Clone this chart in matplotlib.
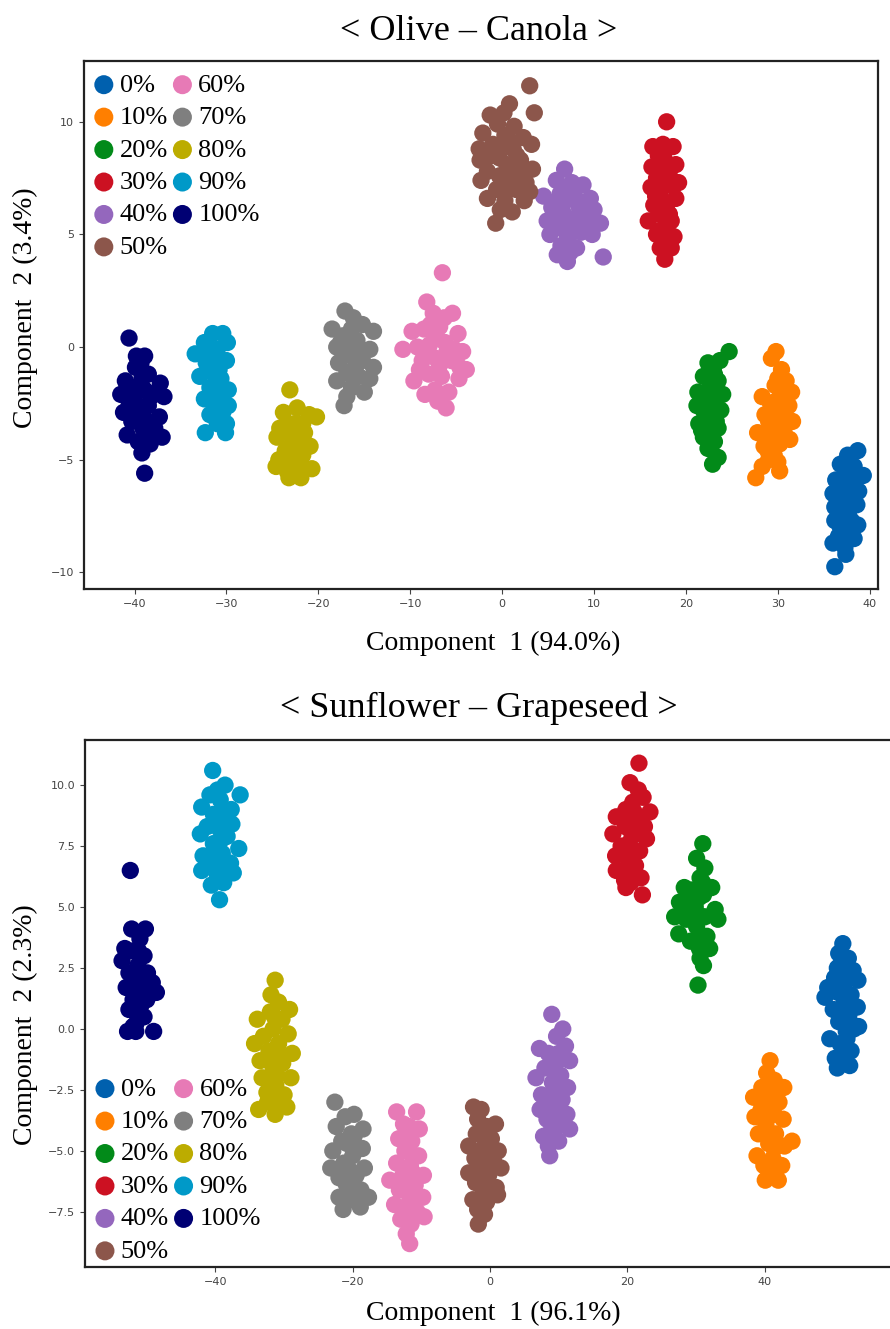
import matplotlib
matplotlib.use("Agg")
import matplotlib.pyplot as plt
from matplotlib.font_manager import FontProperties

# -------------------------------
# Legend labels and colours
# -------------------------------
labels = ["0%", "10%", "20%", "30%", "40%", "50%", "60%", "70%", "80%", "90%", "100%"]
colors = ["#0060ae", "#ff7f00", "#028a19", "#cc1122", "#9467bd", "#8c564b",
          "#e77ab6", "#7f7f7f", "#bcac00", "#0099c8", "#000073"]

# -------------------------------
# Olive - Canola (PCA scores)
# -------------------------------
oc_0 = [(38.7, -4.6), (37.6, -4.8), (36.8, -5.2), (38.3, -5.3), (39.3, -5.7), (37.4, -5.7),
        (36.3, -5.9), (38.2, -6.1), (37.0, -6.3), (36.0, -6.5), (38.8, -6.4), (37.6, -6.8),
        (36.2, -7.1), (38.6, -7.0), (37.1, -7.4), (38.0, -7.7), (36.2, -7.7), (38.7, -7.9),
        (37.0, -8.1), (38.3, -8.5), (36.0, -8.7), (37.3, -8.9), (37.4, -9.2), (36.2, -9.75),
        (37.4, -5.1), (37.2, -6.0), (37.8, -6.4), (37.0, -7.0), (37.7, -7.3), (36.7, -7.9),
        (37.6, -8.3), (36.6, -8.4), (38.0, -5.6)]
oc_10 = [(29.8, -0.2), (29.3, -0.5), (30.4, -1.0), (30.9, -1.5), (29.7, -1.7), (31.5, -2.0),
         (30.3, -2.1), (28.3, -2.2), (29.2, -2.5), (31.2, -2.6), (30.0, -2.9), (28.6, -3.0),
         (31.6, -3.3), (29.5, -3.4), (30.8, -3.5), (27.8, -3.8), (29.1, -3.9), (31.3, -4.1),
         (30.2, -4.3), (28.5, -4.4), (29.6, -4.8), (30.0, -5.1), (28.3, -5.3), (27.6, -5.8),
         (30.2, -5.5), (29.0, -5.0), (29.8, -2.4), (30.6, -3.0), (29.0, -3.3), (30.2, -3.7),
         (29.6, -4.3), (28.9, -4.6), (30.9, -4.0), (30.0, -1.4)]
oc_20 = [(24.7, -0.2), (23.7, -0.6), (22.4, -0.7), (23.0, -0.9), (21.9, -1.3), (23.5, -1.5),
         (22.7, -1.6), (21.3, -2.0), (24.0, -2.1), (22.3, -2.2), (23.2, -2.4), (21.2, -2.6),
         (22.0, -2.9), (23.8, -2.8), (22.8, -3.1), (21.4, -3.4), (23.5, -3.6), (22.3, -3.6),
         (21.9, -4.0), (23.1, -4.2), (22.6, -4.0), (23.5, -4.9), (22.9, -5.2), (22.2, -3.2),
         (22.9, -1.9), (22.6, -2.7), (23.3, -3.3), (21.8, -2.4), (22.6, -3.4), (22.4, -4.5),
         (23.1, -1.2), (21.7, -3.7)]
oc_30 = [(17.9, 10.0), (16.4, 8.9), (17.5, 9.0), (18.6, 8.9), (17.0, 8.5), (18.9, 8.1),
         (16.3, 8.0), (17.8, 7.9), (16.8, 7.5), (19.2, 7.3), (18.1, 7.2), (16.2, 7.1),
         (17.2, 6.9), (18.9, 6.6), (16.5, 6.3), (17.9, 6.3), (17.1, 5.9), (15.9, 5.6),
         (18.4, 5.6), (17.3, 5.2), (18.7, 4.9), (17.7, 4.8), (18.4, 4.4), (17.7, 3.9),
         (16.8, 5.0), (17.5, 8.1), (17.6, 8.4), (18.2, 7.6), (17.4, 7.4), (17.5, 6.5),
         (16.7, 6.7), (18.2, 5.9), (17.9, 5.3), (17.2, 4.4)]
oc_40 = [(6.8, 7.9), (5.9, 7.4), (7.6, 7.3), (8.8, 7.2), (4.5, 6.7), (6.3, 6.8), (7.3, 6.6),
         (9.6, 6.6), (5.4, 6.2), (8.3, 6.3), (10.0, 6.1), (6.6, 6.0), (4.9, 5.6), (7.7, 5.7),
         (9.3, 5.5), (10.7, 5.5), (6.0, 5.3), (8.6, 5.1), (5.2, 5.0), (7.1, 4.9), (9.8, 5.0),
         (6.4, 4.5), (8.1, 4.4), (6.0, 4.1), (7.1, 3.8), (11.0, 4.0), (7.4, 4.2), (7.0, 7.0),
         (6.0, 6.5), (8.0, 6.6), (9.0, 5.8), (6.9, 5.5), (8.0, 5.2), (5.7, 5.7), (7.5, 4.5),
         (9.2, 6.2)]
oc_50 = [(3.0, 11.6), (3.5, 10.4), (0.8, 10.8), (0.2, 10.4), (-1.3, 10.3), (-0.5, 9.9),
         (1.3, 9.8), (-2.1, 9.5), (0.3, 9.4), (2.3, 9.3), (-1.0, 9.0), (3.2, 9.0), (1.2, 8.8),
         (-2.4, 8.3), (-0.3, 8.4), (2.0, 8.3), (3.3, 7.9), (-1.6, 7.8), (0.8, 7.7), (-2.3, 7.4),
         (2.6, 7.3), (-0.6, 7.0), (1.5, 7.0), (-1.6, 6.6), (0.3, 6.5), (2.4, 6.5), (-0.2, 6.1),
         (1.1, 6.0), (-0.7, 5.5), (3.0, 6.9), (-2.5, 8.8), (0.7, 9.2), (-0.3, 8.9), (1.6, 8.5),
         (0.5, 8.1), (-1.2, 8.5), (1.3, 7.4), (-0.3, 7.6), (0.4, 7.0), (2.2, 7.8)]
oc_60 = [(-6.5, 3.3), (-8.2, 2.0), (-7.5, 1.5), (-5.4, 1.5), (-9.8, 0.7), (-8.5, 0.8),
         (-6.8, 0.9), (-4.8, 0.6), (-10.8, -0.1), (-9.2, 0.0), (-7.9, 0.1), (-6.2, 0.2),
         (-4.3, -0.2), (-8.7, -0.6), (-7.2, -0.5), (-5.5, -0.6), (-3.9, -1.0), (-9.6, -1.5),
         (-8.0, -1.2), (-6.6, -1.3), (-4.7, -1.4), (-8.4, -2.1), (-7.3, -1.9), (-5.8, -2.0),
         (-6.1, -2.7), (-7.0, -2.4), (-4.6, -0.9), (-7.3, 0.5), (-6.0, -0.2), (-8.0, -0.3),
         (-6.8, -0.8), (-5.2, -0.1), (-7.8, 1.0), (-6.3, 1.3), (-9.0, -1.0)]
oc_70 = [(-17.1, 1.6), (-16.2, 1.3), (-15.2, 1.0), (-18.5, 0.8), (-14.0, 0.7), (-17.3, 0.5),
         (-15.8, 0.3), (-18.0, 0.0), (-14.4, -0.1), (-16.6, -0.2), (-17.8, -0.7), (-15.2, -0.6),
         (-14.0, -0.9), (-16.9, -1.1), (-15.6, -1.3), (-18.0, -1.5), (-14.4, -1.4), (-16.4, -1.8),
         (-15.0, -2.0), (-17.2, -2.6), (-16.9, -2.2), (-17.6, 0.2), (-16.4, 0.8), (-15.5, -0.2),
         (-16.8, 0.0), (-15.9, -0.8), (-16.2, -1.4), (-17.3, -0.4)]
oc_80 = [(-23.1, -1.9), (-22.3, -2.7), (-23.8, -2.9), (-21.0, -3.0), (-20.2, -3.1), (-22.6, -3.4),
         (-24.2, -3.6), (-23.0, -3.9), (-21.5, -3.8), (-24.5, -4.0), (-22.2, -4.3), (-20.9, -4.4),
         (-23.6, -4.6), (-21.7, -4.8), (-24.3, -5.0), (-22.8, -5.0), (-20.7, -5.4), (-24.6, -5.3),
         (-23.4, -5.5), (-21.6, -5.4), (-23.2, -5.8), (-22.0, -5.3), (-22.5, -3.9), (-23.0, -4.4),
         (-22.3, -4.8), (-21.7, -3.4), (-23.4, -3.4), (-21.9, -5.8)]
oc_90 = [(-31.5, 0.6), (-30.4, 0.6), (-32.4, 0.2), (-29.9, 0.2), (-33.4, -0.3), (-31.0, -0.1),
         (-32.2, -0.7), (-30.0, -0.6), (-31.6, -1.1), (-32.9, -1.3), (-30.6, -1.4), (-29.8, -1.9),
         (-31.8, -1.8), (-30.9, -2.0), (-32.4, -2.3), (-29.8, -2.6), (-31.3, -2.6), (-30.4, -2.9),
         (-31.8, -3.0), (-30.0, -3.4), (-31.0, -3.4), (-32.3, -3.8), (-30.1, -3.8), (-31.2, -0.4),
         (-30.8, -1.0), (-31.0, -0.8), (-31.2, -1.6), (-30.4, -2.3), (-31.3, -3.0), (-32.0, -0.3),
         (-30.7, -3.2)]
oc_100 = [(-40.6, 0.4), (-39.8, -0.4), (-38.9, -0.4), (-39.9, -0.9), (-38.5, -1.2), (-41.0, -1.5),
          (-37.2, -1.6), (-40.2, -1.8), (-38.9, -1.9), (-41.5, -2.1), (-36.8, -2.2), (-40.0, -2.4),
          (-38.5, -2.6), (-39.5, -2.8), (-41.2, -2.9), (-37.3, -3.1), (-40.3, -3.3), (-38.2, -3.4),
          (-39.1, -3.6), (-40.8, -3.9), (-37.0, -4.0), (-39.6, -4.2), (-38.3, -4.3), (-39.2, -4.7),
          (-38.9, -5.6), (-37.5, -2.0), (-40.6, -2.6), (-37.8, -3.6), (-39.2, -1.4), (-39.7, -2.0),
          (-38.2, -2.2), (-39.0, -3.1), (-38.7, -3.9), (-40.0, -3.0), (-39.3, -0.7)]

# -------------------------------
# Sunflower - Grapeseed
# -------------------------------
sg_0 = [(51.4, 3.5), (50.8, 3.1), (52.2, 2.9), (51.0, 2.6), (52.9, 2.4), (50.2, 2.1), (51.8, 2.0),
        (53.6, 2.0), (49.2, 1.7), (50.7, 1.5), (52.6, 1.4), (48.8, 1.3), (51.6, 1.1), (53.5, 0.9),
        (50.0, 0.8), (52.3, 0.6), (50.8, 0.3), (53.7, 0.1), (51.9, -0.1), (49.5, -0.4),
        (51.0, -0.6), (52.6, -0.9), (50.3, -1.2), (50.6, -1.6), (52.4, -1.5), (53.0, 0.0),
        (51.5, 1.8), (51.2, 0.7), (52.0, -0.4), (50.6, 2.5), (51.5, -1.0), (52.7, 0.2)]
sg_10 = [(40.8, -1.3), (40.3, -1.8), (41.4, -2.1), (39.6, -2.4), (42.8, -2.4), (38.4, -2.8),
         (40.8, -2.8), (42.1, -3.0), (39.5, -3.3), (38.6, -3.6), (41.4, -3.5), (42.7, -3.7),
         (40.2, -3.9), (39.1, -4.3), (41.6, -4.3), (44.0, -4.6), (40.6, -4.7), (42.9, -4.8),
         (38.9, -5.2), (41.2, -5.3), (39.9, -5.6), (42.5, -5.6), (40.1, -6.2), (42.0, -6.2),
         (41.0, -6.0), (41.0, -3.3), (40.4, -4.2), (41.4, -4.9), (40.0, -3.0), (41.6, -2.6),
         (41.3, -5.6)]
sg_20 = [(31.0, 7.6), (30.1, 7.0), (31.3, 6.6), (30.6, 6.2), (28.3, 5.8), (29.4, 5.7), (32.3, 5.8),
         (31.1, 5.5), (27.6, 5.2), (29.9, 5.0), (32.8, 4.9), (31.3, 4.6), (26.9, 4.6), (28.6, 4.5),
         (30.1, 4.2), (33.2, 4.5), (27.5, 3.9), (31.6, 3.8), (29.2, 3.6), (30.5, 3.3), (32.0, 3.3),
         (30.6, 2.9), (31.1, 2.6), (30.3, 1.8), (28.5, 4.9), (30.5, 5.4), (30.9, 4.6), (29.6, 4.6),
         (30.4, 3.8), (31.0, 6.0), (28.9, 5.3)]
sg_30 = [(21.7, 10.9), (20.4, 10.1), (21.6, 9.8), (22.3, 9.5), (20.8, 9.3), (19.8, 9.0), (23.3, 8.9),
         (18.4, 8.7), (21.4, 8.6), (22.5, 8.3), (19.7, 8.3), (17.9, 8.0), (20.7, 7.9), (22.8, 7.8),
         (19.1, 7.5), (21.8, 7.3), (18.3, 7.1), (20.2, 7.0), (21.2, 6.7), (18.4, 6.5), (22.0, 6.2),
         (19.6, 6.1), (20.5, 6.0), (19.8, 5.8), (22.2, 5.5), (21.0, 8.9), (20.4, 8.5), (21.2, 8.0),
         (20.2, 7.6), (21.0, 7.2), (19.9, 6.6), (21.5, 6.2)]
sg_40 = [(9.0, 0.6), (10.6, 0.0), (9.7, -0.3), (7.2, -0.8), (11.0, -0.7), (8.5, -1.0), (9.9, -1.3),
         (11.6, -1.3), (8.0, -1.6), (6.7, -2.0), (10.3, -1.9), (9.1, -2.2), (11.3, -2.4), (7.5, -2.7),
         (8.6, -2.8), (10.5, -2.9), (7.3, -3.3), (9.5, -3.4), (11.2, -3.5), (8.3, -3.7), (10.2, -3.9),
         (11.6, -4.1), (7.8, -4.4), (9.4, -4.4), (8.5, -4.8), (8.7, -5.2), (10.0, -4.6), (9.3, -1.6),
         (9.7, -2.6), (8.9, -3.3), (9.9, -3.5), (9.0, -4.0), (10.0, -1.0)]
sg_50 = [(-2.4, -3.2), (-1.3, -3.3), (-1.8, -3.7), (0.8, -3.9), (-0.5, -4.0), (-2.0, -4.3),
         (0.2, -4.5), (-3.1, -4.8), (-1.0, -4.9), (1.2, -5.0), (-2.2, -5.3), (0.5, -5.4), (1.6, -5.7),
         (-1.2, -5.7), (-3.1, -5.9), (-0.2, -6.0), (-2.1, -6.3), (0.9, -6.5), (-1.0, -6.6),
         (1.1, -6.8), (-2.5, -7.0), (-0.5, -7.1), (-1.8, -7.4), (-0.8, -7.6), (-1.7, -8.0),
         (-1.0, -4.4), (-0.6, -5.4), (-1.5, -6.0), (-0.4, -6.5), (-1.3, -7.0), (0.0, -5.0)]
sg_60 = [(-13.6, -3.4), (-10.7, -3.4), (-12.6, -3.9), (-10.3, -4.1), (-13.3, -4.5), (-11.4, -4.6),
         (-12.4, -5.0), (-10.4, -5.2), (-13.6, -5.5), (-11.6, -5.6), (-9.7, -6.0), (-12.7, -6.0),
         (-14.6, -6.2), (-10.9, -6.4), (-13.2, -6.6), (-11.8, -6.8), (-9.8, -6.9), (-13.9, -7.2),
         (-12.4, -7.3), (-10.6, -7.5), (-9.6, -7.7), (-13.0, -7.8), (-11.5, -8.0), (-12.2, -8.4),
         (-11.7, -8.8), (-12.0, -4.2), (-11.9, -5.0), (-11.2, -5.9), (-12.3, -6.5), (-11.4, -7.2),
         (-12.0, -7.8), (-11.8, -4.0), (-10.7, -6.9)]
sg_70 = [(-22.6, -3.0), (-19.8, -3.5), (-21.1, -3.6), (-22.4, -4.0), (-18.5, -4.1), (-20.2, -4.3),
         (-21.6, -4.6), (-18.6, -4.9), (-22.9, -5.0), (-20.0, -5.2), (-21.3, -5.5), (-23.2, -5.7),
         (-18.3, -5.7), (-22.0, -6.1), (-19.5, -6.0), (-20.9, -6.4), (-18.8, -6.6), (-22.0, -6.9),
         (-17.7, -6.9), (-20.2, -7.0), (-21.4, -7.4), (-18.9, -7.3), (-19.7, -7.0), (-20.8, -4.7),
         (-20.4, -5.8), (-21.2, -6.0), (-19.6, -6.5), (-20.5, -6.6), (-19.8, -4.4)]
sg_80 = [(-31.3, 2.0), (-31.9, 1.4), (-30.8, 1.1), (-29.2, 0.8), (-32.0, 0.7), (-33.9, 0.4),
         (-30.3, 0.4), (-31.6, 0.0), (-29.4, -0.2), (-33.0, -0.3), (-34.3, -0.6), (-30.8, -0.6),
         (-32.2, -0.9), (-28.8, -1.0), (-33.5, -1.3), (-30.2, -1.4), (-31.6, -1.6), (-29.0, -2.0),
         (-33.2, -2.0), (-31.2, -2.3), (-32.5, -2.6), (-30.0, -2.7), (-33.7, -3.3), (-31.3, -3.5),
         (-29.6, -3.2), (-32.4, -3.0), (-31.4, 0.5), (-31.0, -0.9), (-31.8, -1.1), (-31.0, -1.9),
         (-32.0, -2.2), (-31.6, -2.9), (-30.6, -3.0)]
sg_90 = [(-40.4, 10.6), (-38.6, 10.0), (-36.4, 9.6), (-40.8, 9.6), (-39.3, 9.4), (-42.0, 9.1),
         (-37.7, 9.0), (-40.3, 8.8), (-37.6, 8.4), (-41.2, 8.3), (-39.4, 8.2), (-42.2, 8.0),
         (-38.3, 7.9), (-40.3, 7.6), (-36.6, 7.4), (-41.8, 7.1), (-39.0, 7.2), (-40.5, 6.8),
         (-37.8, 6.8), (-42.0, 6.5), (-37.4, 6.4), (-39.7, 6.3), (-40.6, 5.9), (-38.8, 6.0),
         (-39.4, 5.3), (-39.5, 8.8), (-39.0, 7.8), (-40.0, 7.2), (-38.8, 6.6), (-39.7, 9.8),
         (-38.6, 8.8)]
sg_100 = [(-52.4, 6.5), (-52.2, 4.1), (-50.2, 4.1), (-51.0, 3.7), (-53.2, 3.3), (-52.0, 3.2),
          (-50.4, 3.0), (-53.6, 2.8), (-51.3, 2.6), (-49.9, 2.3), (-52.6, 2.3), (-51.7, 2.0),
          (-49.2, 1.9), (-53.0, 1.7), (-50.5, 1.6), (-48.6, 1.5), (-52.0, 1.2), (-50.8, 1.0),
          (-52.6, 0.8), (-51.4, 0.6), (-52.0, 0.1), (-51.6, -0.1), (-49.0, -0.1), (-52.8, -0.1),
          (-50.0, 1.2), (-51.2, 3.2), (-51.0, 2.0), (-51.5, 1.5), (-51.1, 1.0), (-51.6, 0.2),
          (-50.4, 0.5)]

oc_groups = [oc_0, oc_10, oc_20, oc_30, oc_40, oc_50, oc_60, oc_70, oc_80, oc_90, oc_100]
sg_groups = [sg_0, sg_10, sg_20, sg_30, sg_40, sg_50, sg_60, sg_70, sg_80, sg_90, sg_100]

serif = "Liberation Serif"
W, H = 890, 1329

fig = plt.figure(figsize=(W / 100, H / 100), dpi=100)


def px_axes(left, top, right, bottom):
    return fig.add_axes([left / W, 1 - bottom / H, (right - left) / W, (bottom - top) / H])


def draw_panel(ax, groups, legend_loc, legend_anchor):
    for pts, lab, col in zip(groups, labels, colors):
        xs = [p[0] for p in pts]
        ys = [p[1] for p in pts]
        ax.scatter(xs, ys, s=155, color=col, edgecolors="none", label=lab)
    for sp in ax.spines.values():
        sp.set_linewidth(1.6)
        sp.set_color("#222222")
    ax.tick_params(labelsize=8, labelcolor="#444444", color="#444444", length=3.5, width=0.8)
    ax.legend(loc=legend_loc, bbox_to_anchor=legend_anchor, ncol=2, frameon=False,
              prop=FontProperties(family=serif, size=19), handlelength=0.9,
              handletextpad=0.15, columnspacing=0.1, labelspacing=0.34,
              borderaxespad=0.0, borderpad=0.0, markerscale=1.1, scatterpoints=1)


# -------------------------------
# Panel 1 : Olive - Canola
# -------------------------------
ax1 = px_axes(84, 61, 878, 589)
draw_panel(ax1, oc_groups, "upper left", (0.01, 0.977))
ax1.set_xlim(-45.5, 40.9)
ax1.set_ylim(-10.74, 12.7)
ax1.set_xticks([-40, -30, -20, -10, 0, 10, 20, 30, 40])
ax1.set_yticks([-10, -5, 0, 5, 10])

fig.text(479 / W, 1 - 40 / H, "< Olive \u2013 Canola >", family=serif, size=26,
         ha="center", va="baseline")
fig.text(493 / W, 1 - 643 / H, "Component  1 (94.0%)", family=serif, size=20,
         ha="center", va="center")
fig.text(25 / W, 1 - 308 / H, "Component  2 (3.4%)", family=serif, size=20,
         ha="center", va="center", rotation=90)

# -------------------------------
# Panel 2 : Sunflower - Grapeseed
# -------------------------------
ax2 = px_axes(85, 740, 895, 1267)
draw_panel(ax2, sg_groups, "lower left", (0.01, 0.008))
ax2.set_xlim(-59, 59)
ax2.set_ylim(-9.76, 11.85)
ax2.set_xticks([-40, -20, 0, 20, 40])
ax2.set_yticks([-7.5, -5.0, -2.5, 0.0, 2.5, 5.0, 7.5, 10.0])
ax2.set_yticklabels(["\u22127.5", "\u22125.0", "\u22122.5", "0.0", "2.5", "5.0", "7.5", "10.0"])

fig.text(479 / W, 1 - 717 / H, "< Sunflower \u2013 Grapeseed >", family=serif, size=26,
         ha="center", va="baseline")
fig.text(493 / W, 1 - 1313 / H, "Component  1 (96.1%)", family=serif, size=20,
         ha="center", va="center")
fig.text(25 / W, 1 - 1025 / H, "Component  2 (2.3%)", family=serif, size=20,
         ha="center", va="center", rotation=90)

fig.savefig("out.png", dpi=100)
